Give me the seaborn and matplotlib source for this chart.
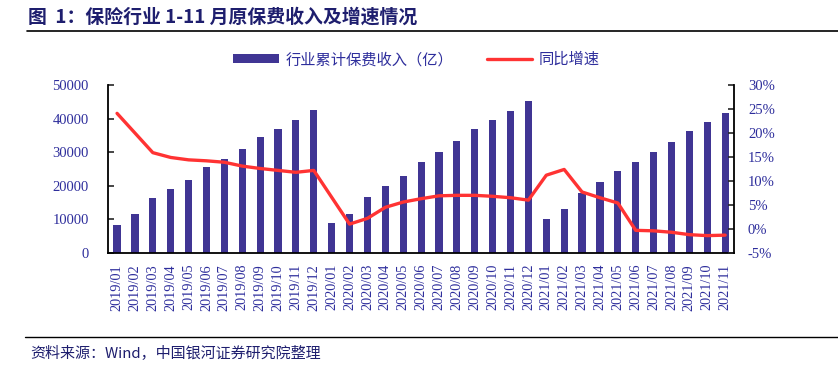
import numpy as np
import pandas as pd
import matplotlib
matplotlib.use("Agg")
import matplotlib.pyplot as plt
import seaborn as sns
from matplotlib.patches import Patch
from matplotlib.lines import Line2D

months = [f"{y}/{m:02d}" for y in (2019, 2020) for m in range(1, 13)] + \
         [f"2021/{m:02d}" for m in range(1, 12)]
premium = [8400, 11700, 16300, 19100, 21800, 25500, 28000, 31000, 34600, 37000, 39600, 42600,
           9000, 11700, 16700, 19900, 23000, 27100, 30100, 33300, 36900, 39600, 42200, 45200,
           10000, 13200, 17900, 21100, 24400, 27100, 30000, 33100, 36400, 39000, 41600]
growth = [24.1, 20.0, 15.9, 14.9, 14.4, 14.2, 13.9, 13.1, 12.6, 12.2, 11.8, 12.2,
          6.6, 1.0, 2.2, 4.5, 5.6, 6.3, 6.9, 7.0, 7.0, 6.8, 6.5, 6.0,
          11.2, 12.4, 7.7, 6.5, 5.4, -0.3, -0.4, -0.7, -1.2, -1.4, -1.3]
left_ticks = [0, 10000, 20000, 30000, 40000, 50000]
right_ticks = [-5, 0, 5, 10, 15, 20, 25, 30]

title = "图  1：保险行业 1-11 月原保费收入及增速情况"
bar_label = "行业累计保费收入（亿）"
line_label = "同比增速"
source = "资料来源：Wind，中国银河证券研究院整理"

df = pd.DataFrame({"month": months, "premium": premium, "growth": growth})

sns.set_style("white")
plt.rcParams["font.family"] = ["Liberation Serif", "Noto Sans CJK SC", "DejaVu Sans"]

BAR = "#403594"
RED = "#FF3333"
TXT = "#2E2E9C"
NAVY = "#1E1E6E"

fig = plt.figure(figsize=(8.38, 3.78), dpi=100)
ax = fig.add_axes([0.129, 0.331, 0.747, 0.444])
sns.barplot(data=df, x="month", y="premium", color=BAR, width=0.4,
            saturation=1, ax=ax, edgecolor="none")
ax2 = ax.twinx()
sns.lineplot(data=df, x="month", y="growth", color=RED, linewidth=2.4, ax=ax2,
             sort=False)

ax.set_xlim(-0.5, 34.5)
ax.set_ylim(0, 50000)
ax2.set_ylim(-5, 30)
ax.set_yticks(left_ticks)
ax.set_yticklabels([str(v) for v in left_ticks])
ax2.set_yticks(right_ticks)
ax2.set_yticklabels([f"{v}%" for v in right_ticks])
ax.set_xlabel("")
ax.set_ylabel("")
ax2.set_xlabel("")
ax2.set_ylabel("")

ax.set_xticks(np.arange(len(months)))
ax.set_xticklabels(months, rotation=90)
ax.set_xticks(np.arange(-0.5, len(months), 1.0), minor=True)
ax.tick_params(axis="x", which="major", length=0, pad=8, labelsize=10.3, labelcolor=TXT)
ax.tick_params(axis="x", which="minor", direction="in", length=4, width=1, color="black")
ax.tick_params(axis="y", direction="in", length=4, width=1.2, pad=14,
               labelsize=10.5, labelcolor=TXT, left=True)
ax2.tick_params(axis="y", direction="in", length=4, width=1.2, pad=10,
                labelsize=10.5, labelcolor=TXT, right=True)

for a in (ax, ax2):
    a.spines["top"].set_visible(False)
    for s in ("left", "right", "bottom"):
        a.spines[s].set_color("black")
        a.spines[s].set_linewidth(1.3)
ax.spines["right"].set_visible(False)
ax2.spines["left"].set_visible(False)
ax2.spines["bottom"].set_visible(False)
ax.grid(False)
ax2.grid(False)

handles = [Patch(facecolor=BAR, edgecolor="none"),
           Line2D([0], [0], color=RED, linewidth=2.4)]
fig.legend(handles, [bar_label, line_label], loc="center", ncol=2,
           bbox_to_anchor=(0.497, 0.842), frameon=False,
           prop={"family": ["Noto Sans CJK SC"], "size": 11},
           labelcolor=TXT, handlelength=3.0, handleheight=0.5,
           columnspacing=2.2, handletextpad=0.4)

fig.text(0.033, 0.955, title, fontsize=13.6, fontweight="bold", color=NAVY,
         family=["Noto Sans CJK SC", "DejaVu Sans"], va="center", ha="left")
fig.add_artist(Line2D([0.032, 1.0], [0.918, 0.918], color="black", linewidth=1.2,
                      transform=fig.transFigure))
fig.add_artist(Line2D([0.03, 1.0], [0.108, 0.108], color="black", linewidth=1.0,
                      transform=fig.transFigure))
fig.text(0.036, 0.065, source, fontsize=10.8, style="italic", color=NAVY,
         family=["Noto Sans CJK SC", "DejaVu Sans"], va="center", ha="left")

fig.savefig("out.png", dpi=100)
